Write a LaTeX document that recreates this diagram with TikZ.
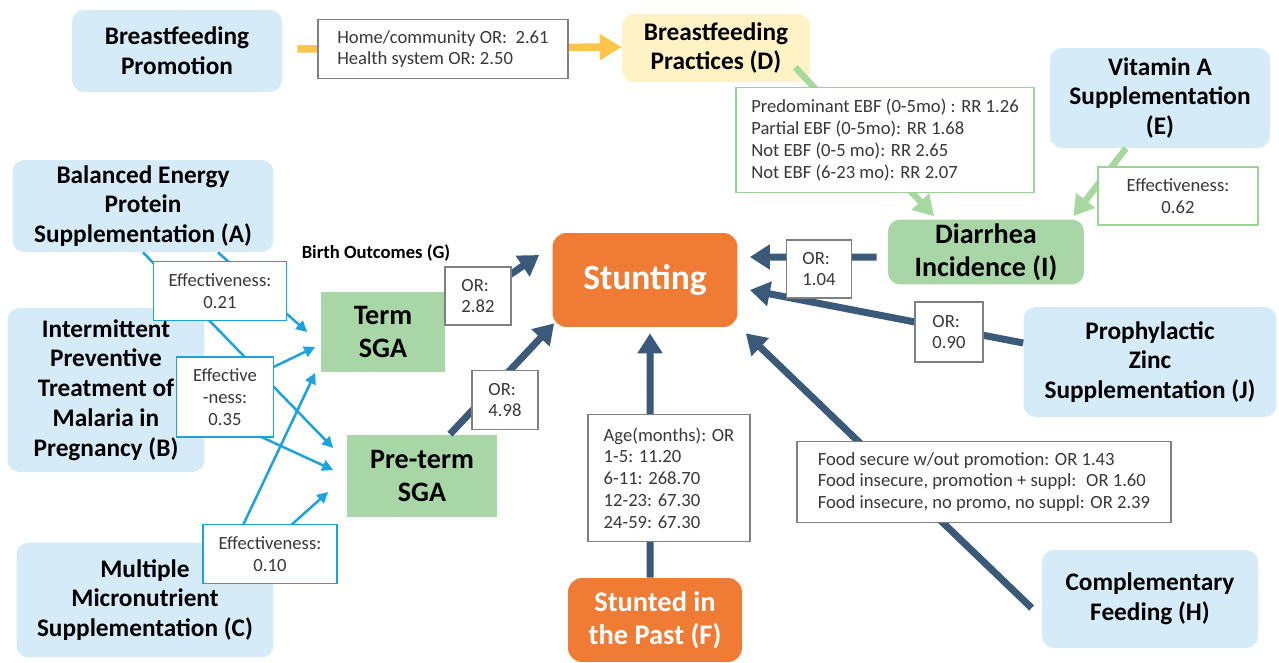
\documentclass[tikz,border=0pt]{standalone}
\usepackage{fontspec}
\setmainfont{Carlito}
\usetikzlibrary{arrows.meta}
\definecolor{intblue}{HTML}{D5EBF8}
\definecolor{bfyellow}{HTML}{FFF3C6}
\definecolor{midgreen}{HTML}{A9D6A6}
\definecolor{stuntorange}{HTML}{EF7B35}
\definecolor{darkarrow}{HTML}{3B5A79}
\definecolor{bluearrow}{HTML}{1BA3DE}
\definecolor{greenarrow}{HTML}{A6D89F}
\definecolor{yellowarrow}{HTML}{FBC54A}
\definecolor{labelgray}{HTML}{808080}
\definecolor{labelgreen}{HTML}{9BD596}
\definecolor{labeltext}{HTML}{383838}
\begin{document}
\begin{tikzpicture}[x=0.02cm,y=-0.02cm,
            every node/.style={rectangle,align=center,inner sep=0pt},
            interv/.style={fill=intblue,rounded corners=0.24cm,font=\bfseries\fontsize{14.4}{17}\selectfont},
            effectbox/.style={fill=midgreen,font=\bfseries\fontsize{16}{19}\selectfont},
            stuntbox/.style={fill=stuntorange,rounded corners=0.28cm,text=white},
            numbox/.style={draw=labelgray,line width=0.8pt,fill=white,text=labeltext,align=left,font=\fontsize{10.6}{12.4}\selectfont},
            effbox/.style={numbox,draw=bluearrow,line width=1.1pt,align=center},
            ebfbox/.style={numbox,draw=labelgreen,line width=1pt},
            darrow/.style={->,>={Triangle[length=0.4cm,width=0.48cm]},draw=darkarrow,line width=0.14cm},
            barrow/.style={->,>={Triangle[length=0.22cm,width=0.22cm]},draw=bluearrow,line width=0.05cm},
            garrow/.style={->,>={Triangle[length=0.4cm,width=0.46cm]},draw=greenarrow,line width=0.13cm},
            yarrow/.style={->,>={Triangle[length=0.44cm,width=0.5cm]},draw=yellowarrow,line width=0.15cm}]
            \useasboundingbox (0,0) rectangle (1279,663);
            % boxes
            \node[interv,minimum width=4.2cm,minimum height=1.64cm] (bfprom) at (177,51) {Breastfeeding\\Promotion};
            \node[interv,fill=bfyellow,minimum width=3.76cm,minimum height=1.36cm] (bfprac) at (716,48) {Breastfeeding\\Practices (D)};
            \node[interv,minimum width=4.4cm,minimum height=2cm] (vita) at (1160,98) {Vitamin A\\Supplementation\\(E)};
            \node[interv,minimum width=5.22cm,minimum height=1.84cm] (bep) at (143,206) {Balanced Energy\\Protein\\Supplementation (A)};
            \node[interv,minimum width=3.94cm,minimum height=3.28cm] (iptp) at (106,390) {Intermittent\\Preventive\\Treatment of\\Malaria in\\Pregnancy (B)};
            \node[interv,minimum width=5.14cm,minimum height=2.3cm] (mms) at (145,600) {Multiple\\Micronutrient\\Supplementation (C)};
            \node[interv,minimum width=5.06cm,minimum height=2.2cm] (zinc) at (1150,362) {Prophylactic\\Zinc\\Supplementation (J)};
            \node[interv,minimum width=4.32cm,minimum height=1.96cm] (cf) at (1150,599) {Complementary\\Feeding (H)};
            \node[effectbox,rounded corners=0.24cm,minimum width=3.92cm,minimum height=1.3cm] (diar) at (986,252) {Diarrhea\\Incidence (I)};
            \node[effectbox,minimum width=2.5cm,minimum height=1.62cm] (term) at (383,332) {Term\\SGA};
            \node[effectbox,minimum width=3.02cm,minimum height=1.66cm] (preterm) at (422,476) {Pre-term\\SGA};
            \node[font=\bfseries\fontsize{10.6}{12}\selectfont] (birth) at (376,253) {Birth Outcomes (G)};
            \node[stuntbox,font=\bfseries\fontsize{20.2}{24}\selectfont,minimum width=3.7cm,minimum height=1.88cm] (stunt) at (645,280) {Stunting};
            \node[stuntbox,font=\bfseries\fontsize{16.2}{18.7}\selectfont,minimum width=3.48cm,minimum height=1.68cm] (past) at (655,620) {Stunted in\\the Past (F)};
            % arrows
            \path[yarrow] ([xshift=0.3cm,yshift=0.04cm]bfprom.east) -- ([yshift=0.02cm]bfprac.west);
            \path[garrow] ([xshift=-0.3cm,yshift=0.3cm]bfprac.south east) -- ([xshift=-1.04cm,yshift=0.06cm]diar.north);
            \path[garrow] ([xshift=-0.68cm]vita.south) -- ([xshift=-0.22cm,yshift=0.06cm]diar.north east);
            \path[darrow] ([xshift=-0.22cm,yshift=-0.1cm]diar.west) -- ([xshift=0.24cm,yshift=0.46cm]stunt.east);
            \path[darrow] ([yshift=0.38cm]zinc.west) -- ([xshift=0.24cm,yshift=-0.2cm]stunt.east);
            \path[darrow] ([xshift=-0.2cm,yshift=-0.18cm]cf.west) -- ([xshift=0.16cm,yshift=-0.12cm]stunt.south east);
            \path[darrow] ([xshift=-0.1cm]past.north) -- ([xshift=0.1cm,yshift=-0.12cm]stunt.south);
            \path[darrow] ([xshift=0.56cm]preterm.north) -- ([xshift=0.04cm,yshift=0.08cm]stunt.south west);
            \path[darrow] ([yshift=0.28cm]term.east) -- ([xshift=-0.26cm,yshift=0.5cm]stunt.west);
            \path[barrow] ([xshift=1.5cm]bep.south) -- ([xshift=-0.26cm]term.west);
            \path[barrow] (bep.south) -- ([xshift=-0.26cm,yshift=0.56cm]preterm.west);
            \path[barrow] ([yshift=-0.2cm]iptp.east) -- ([xshift=-0.1cm,yshift=-0.3cm]term.west);
            \path[barrow] ([yshift=-0.42cm]iptp.east) -- ([xshift=-0.26cm,yshift=0.12cm]preterm.west);
            \path[barrow] ([xshift=1.8cm]mms.north) -- ([xshift=-0.1cm]term.south west);
            \path[barrow] ([xshift=2.54cm]mms.north) -- ([xshift=-0.36cm,yshift=-0.32cm]preterm.west);
            % labels
            \node[numbox,minimum width=5cm,minimum height=1.18cm] (bflabel) at (443,49) {Home/community OR:~ 2.61\\Health system OR: 2.50};
            \node[ebfbox,minimum width=5.96cm,minimum height=2.1cm] (ebflabel) at (885,140) {Predominant EBF (0-5mo) : RR 1.26\\Partial EBF (0-5mo): RR 1.68\\Not EBF (0-5 mo): RR 2.65\\Not EBF (6-23 mo): RR 2.07};
            \node[ebfbox,align=center,minimum width=3.2cm,minimum height=1.16cm] (vitalabel) at (1178,196) {Effectiveness:\\0.62};
            \node[numbox,minimum width=1.3cm,minimum height=1.16cm] (diarlabel) at (819,269) {OR:\\1.04};
            \node[numbox,minimum width=1.36cm,minimum height=1.2cm] (zinclabel) at (949,332) {OR:\\0.90};
            \node[numbox,minimum width=7.48cm,minimum height=1.62cm] (cflabel) at (984,482) {Food secure w/out promotion: OR 1.43\\Food insecure, promotion + suppl:~ OR 1.60\\Food insecure, no promo, no suppl: OR 2.39};
            \node[numbox,minimum width=3.24cm,minimum height=2.54cm] (pastlabel) at (669,478) {Age(months): OR\\1-5: 11.20\\6-11: 268.70\\12-23: 67.30\\24-59: 67.30};
            \node[numbox,minimum width=1.32cm,minimum height=1.16cm] (termlabel) at (478,296) {OR:\\2.82};
            \node[numbox,minimum width=1.32cm,minimum height=1.18cm] (pretermlabel) at (505,400) {OR:\\4.98};
            \node[effbox,minimum width=2.66cm,minimum height=1.18cm] (beplabel) at (220,291) {Effectiveness:\\0.21};
            \node[effbox,minimum width=1.94cm,minimum height=1.6cm] (iptplabel) at (225,397) {Effective\\-ness:\\0.35};
            \node[effbox,minimum width=2.68cm,minimum height=1.18cm] (mmslabel) at (270,554) {Effectiveness:\\0.10};
\end{tikzpicture}
\end{document}
